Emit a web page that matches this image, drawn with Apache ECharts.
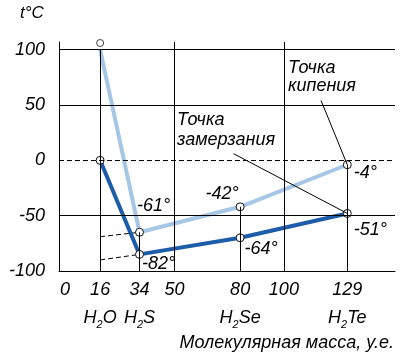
<!DOCTYPE html>
<html><head><meta charset="utf-8">
<script src="https://cdn.jsdelivr.net/npm/echarts@6/dist/echarts.min.js"></script>
<style>html,body{margin:0;padding:0;background:#fff}#c{width:410px;height:359px}</style>
</head><body><div id="c"></div>
<script>
// ---- data ----
const masses = [16, 34, 80, 129];
const molecules = [['H','2','O'], ['H','2','S'], ['H','2','Se'], ['H','2','Te']];
const xTickValues = [0, 16, 34, 50, 80, 100, 129];
const yTickValues = [100, 50, 0, -50, -100];
const boilingPlotted = [100, -65, -42, -4];
const meltingPlotted = [0, -85, -70, -48];
const boilingLabels = ['', '-61°', '-42°', '-4°'];
const meltingLabels = ['', '-82°', '-64°', '-51°'];
const waterBoilMarker = [16, 106];
const extrapBoiling = [[16, -69], [34, -65]];
const extrapMelting = [[16, -90], [34, -85]];
const verticalGrid = [50, 100];
const boilAnchor = [117, 54];
const meltAnchor = [77, 6];

// ---- style ----
const FONT = '"Liberation Sans", Arial, sans-serif';
const DARK = '#1d5ca9';
const LIGHT = '#a6c6e6';
const boilOffsets = [[0,0],[14,-26],[-18,-13],[18,8]];
const meltOffsets = [[0,0],[19,10],[21,11],[23,17]];
const Y_MIN = -100, Y_MAX = 106.9, X_MIN = -2.8, X_MAX = 150.8;

const txt = {fontFamily: FONT, fontStyle: 'italic', fontSize: 18, color: '#000'};
const marker = {color: '#fff', borderColor: '#111', borderWidth: 1};

function pts(vals, labels, offs, firstSymbol) {
  return masses.map((m, i) => ({
    value: [m, vals[i]],
    symbol: (i === 0 && !firstSymbol) ? 'none' : 'circle',
    label: {show: !!labels[i], formatter: labels[i], position: 'inside', offset: offs[i], ...txt}
  }));
}

const gridLines = [];
yTickValues.filter(v => v !== Y_MIN).forEach(v => {
  gridLines.push({yAxis: v, lineStyle: {type: v === 0 ? [5, 3] : 'solid', color: '#000', width: 1}});
});
verticalGrid.forEach(v => gridLines.push({xAxis: v, lineStyle: {type: 'solid', color: '#000', width: 1}}));
masses.forEach((m, i) => gridLines.push([{coord: [m, boilingPlotted[i]]}, {coord: [m, Y_MIN], lineStyle: {type: 'solid', color: '#000', width: 1}}]));
gridLines.push([{coord: boilAnchor}, {coord: [masses[3], boilingPlotted[3]], lineStyle: {type: 'solid', color: '#000', width: 1}}]);
gridLines.push([{coord: meltAnchor}, {coord: [masses[3], meltingPlotted[3]], lineStyle: {type: 'solid', color: '#000', width: 1}}]);

const chart = echarts.init(document.getElementById('c'), null, {renderer: 'canvas'});
chart.setOption({
  animation: false,
  backgroundColor: '#fff',
  grid: {left: 59, right: 15, top: 42, bottom: 88, containLabel: false},
  xAxis: {
    type: 'value', min: X_MIN, max: X_MAX,
    axisLine: {show: true, onZero: false, lineStyle: {color: '#000', width: 1}},
    axisTick: {show: false},
    splitLine: {show: false},
    axisLabel: {
      customValues: xTickValues, margin: 3,
      formatter: v => {
        const i = masses.indexOf(v);
        let s = '{n|' + v + '}';
        if (i >= 0) { const m = molecules[i]; s += '\n{m|' + m[0] + '}{s|' + m[1] + '}{m|' + m[2] + '}'; }
        return s;
      },
      rich: {
        n: {...txt, lineHeight: 32},
        m: {...txt, lineHeight: 24},
        s: {...txt, fontSize: 11, verticalAlign: 'bottom'}
      }
    }
  },
  yAxis: {
    type: 'value', min: Y_MIN, max: Y_MAX, interval: 50,
    axisLine: {show: true, onZero: false, lineStyle: {color: '#000', width: 1}},
    axisTick: {show: false},
    splitLine: {show: false},
    axisLabel: {...txt, margin: 14, formatter: v => (yTickValues.includes(v) ? String(v) : '')}
  },
  graphic: [
    {type: 'text', left: 20, top: 5, style: {text: 't°C', font: 'italic 17px ' + FONT, fill: '#000'}},
    {type: 'text', right: 16, top: 334, style: {text: 'Молекулярная масса, у.е.', font: 'italic 18px ' + FONT, fill: '#000'}},
    {type: 'text', left: 288, top: 59, style: {text: 'Точка\nкипения', font: 'italic 18px ' + FONT, fill: '#000', lineHeight: 18}},
    {type: 'text', left: 177, top: 110, style: {text: 'Точка\nзамерзания', font: 'italic 18px ' + FONT, fill: '#000', lineHeight: 20}}
  ],
  series: [
    {type: 'line', z: 1, silent: true, data: [],
     markLine: {silent: true, symbol: ['none', 'none'], label: {show: false}, animation: false,
       lineStyle: {color: '#000', width: 1, type: 'solid'}, data: gridLines}},
    {type: 'line', z: 2, data: extrapBoiling, symbol: 'none', lineStyle: {color: '#000', width: 1, type: [5, 3]}},
    {type: 'line', z: 2, data: extrapMelting, symbol: 'none', lineStyle: {color: '#000', width: 1, type: [5, 3]}},
    {type: 'line', z: 3, data: pts(boilingPlotted, boilingLabels, boilOffsets, false),
     symbolSize: 8, itemStyle: marker, lineStyle: {color: LIGHT, width: 4}},
    {type: 'line', z: 4, data: pts(meltingPlotted, meltingLabels, meltOffsets, true),
     symbolSize: 8, itemStyle: marker, lineStyle: {color: DARK, width: 4}},
    {type: 'scatter', z: 4, data: [waterBoilMarker], symbol: 'circle', symbolSize: 7, itemStyle: marker}
  ]
});
</script></body></html>
